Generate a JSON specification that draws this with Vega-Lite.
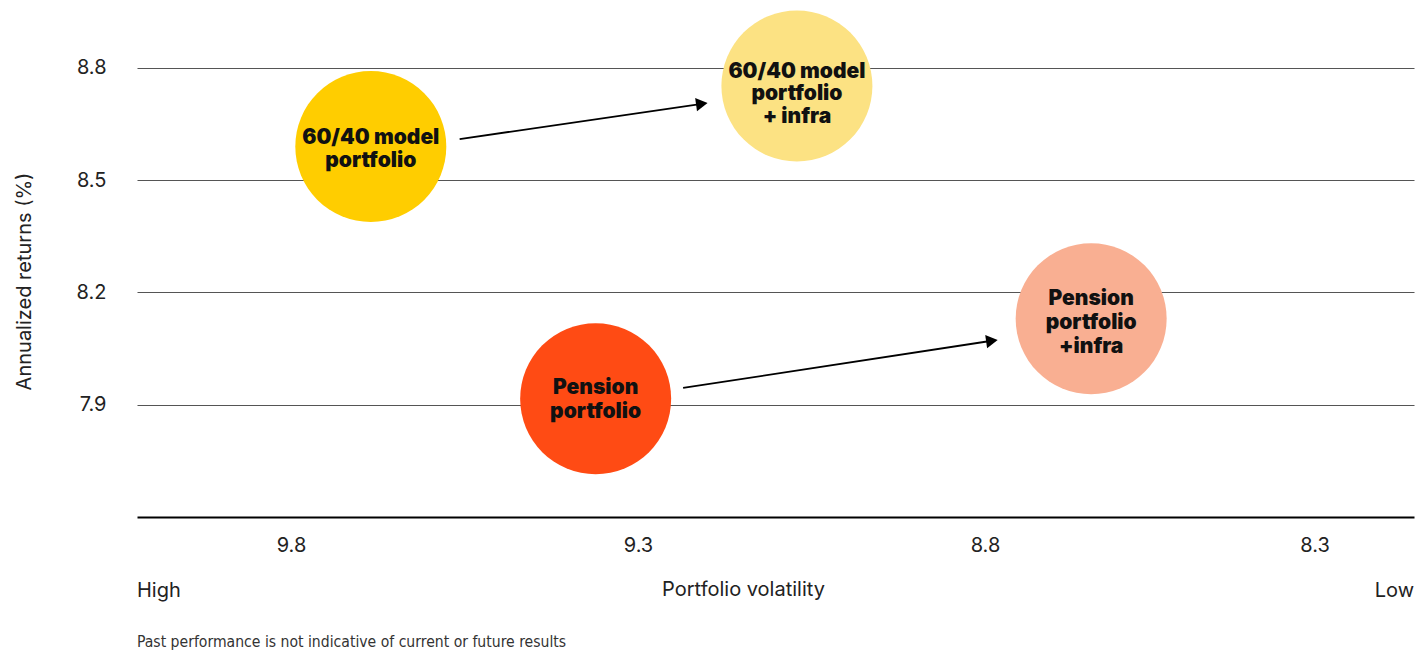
{
  "$schema": "https://vega.github.io/schema/vega-lite/v6.json",
  "width": 1277,
  "height": 472,
  "autosize": {"type": "none"},
  "padding": {"left": 137, "top": 45, "right": 12, "bottom": 137},
  "background": "white",
  "config": {"view": {"stroke": null}, "font": "Inter"},
  "title": {
    "text": "Past performance is not indicative of current or future results",
    "orient": "bottom",
    "anchor": "start",
    "frame": "group",
    "font": "DejaVu Sans Condensed",
    "fontSize": 15.6,
    "fontWeight": "normal",
    "color": "#333",
    "offset": 34
  },
  "layer": [
    {
      "data": {"values": [
        {"name": "60/40 model portfolio", "vol": 9.685, "ret": 8.590},
        {"name": "60/40 model portfolio + infra", "vol": 9.071, "ret": 8.752},
        {"name": "Pension portfolio", "vol": 9.361, "ret": 7.916},
        {"name": "Pension portfolio +infra", "vol": 8.647, "ret": 8.130}
      ]},
      "mark": {"type": "circle", "size": 22800, "opacity": 1},
      "encoding": {
        "x": {
          "field": "vol", "type": "quantitative",
          "scale": {"domain": [8.1818, 10.0219], "reverse": true, "nice": false, "zero": false},
          "axis": {
            "values": [9.8, 9.3, 8.8, 8.325],
            "labelExpr": "format(datum.value, '.1f')",
            "grid": false, "ticks": false,
            "domainColor": "#000", "domainWidth": 2,
            "labelFontSize": 20, "labelColor": "#222", "labelPadding": 18,
            "title": "Portfolio volatility",
            "titleFontSize": 20, "titleFontWeight": "normal", "titleColor": "#222",
            "titleX": 606, "titlePadding": 24
          }
        },
        "y": {
          "field": "ret", "type": "quantitative",
          "scale": {"domain": [7.6, 8.8614], "nice": false, "zero": false},
          "axis": {
            "values": [7.9, 8.2, 8.5, 8.8],
            "format": ".1f",
            "grid": true, "gridColor": "#555", "gridWidth": 1.2,
            "domain": false, "ticks": false,
            "labelFontSize": 20, "labelColor": "#222", "labelPadding": 31,
            "title": "Annualized returns (%)",
            "titleFontSize": 20, "titleFontWeight": "normal", "titleColor": "#222",
            "titlePadding": 42
          }
        },
        "color": {
          "field": "name", "type": "nominal",
          "scale": {
            "domain": ["60/40 model portfolio", "60/40 model portfolio + infra", "Pension portfolio", "Pension portfolio +infra"],
            "range": ["#FFCD00", "#FCE283", "#FF4B14", "#F9AF92"]
          },
          "legend": null
        }
      }
    },
    {
      "data": {"values": [
        {"vol": 9.557, "ret": 8.610, "vol2": 9.208, "ret2": 8.704},
        {"vol": 9.235, "ret": 7.945, "vol2": 8.790, "ret2": 8.071}
      ]},
      "mark": {"type": "rule", "color": "#000", "strokeWidth": 1.8},
      "encoding": {
        "x": {"field": "vol", "type": "quantitative"},
        "y": {"field": "ret", "type": "quantitative"},
        "x2": {"field": "vol2"},
        "y2": {"field": "ret2"}
      }
    },
    {
      "data": {"values": [
        {"vol": 9.208, "ret": 8.704},
        {"vol": 8.790, "ret": 8.071}
      ]},
      "mark": {"type": "point", "shape": "triangle-right", "filled": true, "color": "#000", "opacity": 1, "size": 180, "angle": 352},
      "encoding": {
        "x": {"field": "vol", "type": "quantitative"},
        "y": {"field": "ret", "type": "quantitative"}
      }
    },
    {
      "data": {"values": [
        {"label": "60/40 model\nportfolio", "vol": 9.685, "ret": 8.590}
      ]},
      "mark": {"type": "text", "lineBreak": "\n", "fontSize": 21, "fontWeight": 900, "lineHeight": 23, "color": "#111", "align": "center", "baseline": "middle", "dy": -9},
      "encoding": {
        "x": {"field": "vol", "type": "quantitative"},
        "y": {"field": "ret", "type": "quantitative"},
        "text": {"field": "label"}
      }
    },
    {
      "data": {"values": [
        {"label": "Pension\nportfolio", "vol": 9.361, "ret": 7.916}
      ]},
      "mark": {"type": "text", "lineBreak": "\n", "fontSize": 21, "fontWeight": 900, "lineHeight": 24, "color": "#111", "align": "center", "baseline": "middle", "dy": -11},
      "encoding": {
        "x": {"field": "vol", "type": "quantitative"},
        "y": {"field": "ret", "type": "quantitative"},
        "text": {"field": "label"}
      }
    },
    {
      "data": {"values": [
        {"label": "60/40 model\nportfolio\n+ infra", "vol": 9.071, "ret": 8.752}
      ]},
      "mark": {"type": "text", "lineBreak": "\n", "fontSize": 21, "fontWeight": 900, "lineHeight": 22.5, "color": "#111", "align": "center", "baseline": "middle", "dy": -14},
      "encoding": {
        "x": {"field": "vol", "type": "quantitative"},
        "y": {"field": "ret", "type": "quantitative"},
        "text": {"field": "label"}
      }
    },
    {
      "data": {"values": [
        {"label": "Pension\nportfolio\n+infra", "vol": 8.647, "ret": 8.130}
      ]},
      "mark": {"type": "text", "lineBreak": "\n", "fontSize": 21, "fontWeight": 900, "lineHeight": 24, "color": "#111", "align": "center", "baseline": "middle", "dy": -20},
      "encoding": {
        "x": {"field": "vol", "type": "quantitative"},
        "y": {"field": "ret", "type": "quantitative"},
        "text": {"field": "label"}
      }
    },
    {
      "data": {"values": [{"end": "High", "vol": 10.0219, "ret": 7.6}]},
      "mark": {"type": "text", "align": "left", "baseline": "middle", "fontSize": 20, "color": "#222", "dy": 74},
      "encoding": {
        "x": {"field": "vol", "type": "quantitative"},
        "y": {"field": "ret", "type": "quantitative"},
        "text": {"field": "end"}
      }
    },
    {
      "data": {"values": [{"end": "Low", "vol": 8.1818, "ret": 7.6}]},
      "mark": {"type": "text", "align": "right", "baseline": "middle", "fontSize": 20, "color": "#222", "dy": 74},
      "encoding": {
        "x": {"field": "vol", "type": "quantitative"},
        "y": {"field": "ret", "type": "quantitative"},
        "text": {"field": "end"}
      }
    }
  ]
}
